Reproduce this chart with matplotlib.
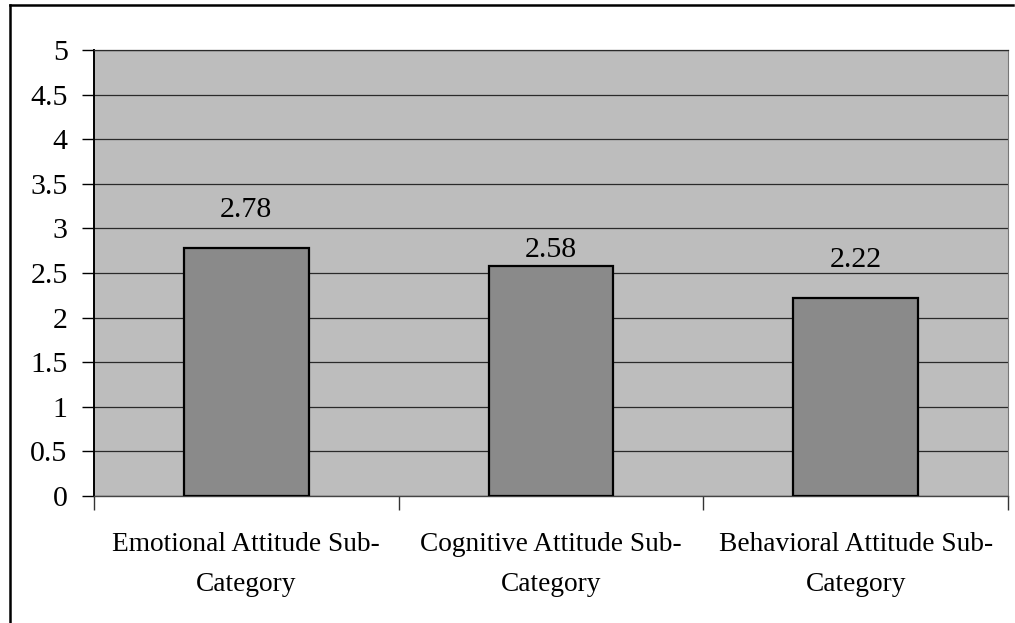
import numpy as np
import matplotlib.pyplot as plt
from matplotlib.lines import Line2D

# Data
categories = ['Emotional Attitude Sub-\nCategory',
              'Cognitive Attitude Sub-\nCategory',
              'Behavioral Attitude Sub-\nCategory']
values = [2.78, 2.58, 2.22]
value_labels = ['2.78', '2.58', '2.22']
y_ticks = [0, 0.5, 1, 1.5, 2, 2.5, 3, 3.5, 4, 4.5, 5]
y_tick_labels = ['0', '0.5', '1', '1.5', '2', '2.5', '3', '3.5', '4', '4.5', '5']

# label gap above each bar (points) - the middle one sits lower in the original
label_offsets = [22, 6.5, 22]

plt.rcParams['font.family'] = ['Liberation Serif', 'DejaVu Serif']

fig = plt.figure(figsize=(10.15, 6.23), dpi=100)
ax = fig.add_axes([94 / 1015, 1 - 496 / 623, (1008 - 94) / 1015, (496 - 50) / 623])

# outer frame (only left and top edges visible)
fig.add_artist(Line2D([10 / 1015, 10 / 1015], [0, 1 - 5 / 623], color='black', lw=1.8,
                      transform=fig.transFigure))
fig.add_artist(Line2D([10 / 1015, 1013 / 1015], [1 - 5 / 623, 1 - 5 / 623], color='black', lw=1.8,
                      transform=fig.transFigure))

ax.set_facecolor('#bdbdbd')
x = np.arange(len(categories))
bars = ax.bar(x, values, width=0.41, color='#8a8a8a', edgecolor='black', linewidth=1.6, zorder=3)

for b, lab, off in zip(bars, value_labels, label_offsets):
    ax.annotate(lab, (b.get_x() + b.get_width() / 2, b.get_height()),
                xytext=(0, off), textcoords='offset points',
                ha='center', va='baseline', fontsize=21.5, color='black')

ax.set_xlim(-0.5, len(categories) - 0.5)
ax.set_ylim(0, 5)
ax.set_yticks(y_ticks)
ax.set_yticklabels(y_tick_labels, fontsize=21.5)
ax.yaxis.grid(True, color='#2a2a2a', linewidth=0.9, zorder=0)
ax.set_axisbelow(True)

# category labels centered, ticks at category boundaries
ax.set_xticks(x)
ax.set_xticklabels(categories, fontsize=19.7, linespacing=1.8)
ax.tick_params(axis='x', length=0, pad=26)
ax.set_xticks(np.arange(len(categories) + 1) - 0.5, minor=True)
ax.tick_params(axis='x', which='minor', length=10, width=1.0, color='#333333')
ax.tick_params(axis='y', length=9, width=1.0, pad=10)

ax.spines['top'].set_color('#2a2a2a')
ax.spines['top'].set_linewidth(0.9)
ax.spines['right'].set_color('#777777')
ax.spines['right'].set_linewidth(0.8)
ax.spines['left'].set_linewidth(1.4)
ax.spines['bottom'].set_linewidth(1.0)
ax.spines['bottom'].set_color('#444444')

plt.savefig('out.png', dpi=100)
